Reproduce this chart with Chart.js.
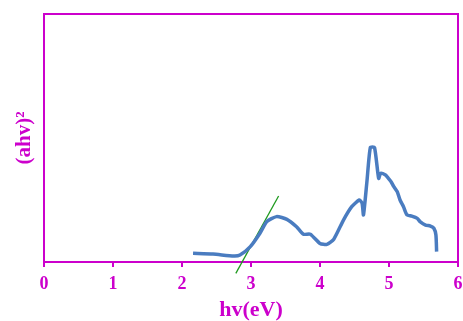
<!DOCTYPE html>
<html lang="en">
  <head>
    <meta charset="UTF-8" />
    <title>Tauc Plot</title>
    <script src="https://cdn.jsdelivr.net/npm/chart.js"></script>
    <style>
      html, body { margin: 0; padding: 0; background: #ffffff; }
      #wrap { width: 463px; height: 321px; }
    </style>
  </head>
  <body>
    <div id="wrap"><canvas id="taucChart"></canvas></div>
    <script>
      // photon energy (eV) and (ahv)^2 (arbitrary units)
      const energy = [2.16, 2.45, 2.75, 2.84, 2.99, 3.13, 3.23, 3.37, 3.52, 3.66, 3.76, 3.86,
        4.0, 4.1, 4.2, 4.34, 4.46, 4.57, 4.61, 4.63, 4.68, 4.73, 4.79, 4.85, 4.88, 4.95,
        4.98, 5.03, 5.07, 5.12, 5.16, 5.21, 5.26, 5.33, 5.41, 5.45, 5.53, 5.6, 5.65, 5.68, 5.69];
      const absorb = [3.5, 3.2, 2.4, 2.8, 6.2, 11.6, 16.3, 18.3, 17.2, 14.2, 11.2, 11.2,
        7.5, 7.1, 9.2, 16.9, 22.3, 25.0, 23.7, 19.0, 32.4, 46.2, 46.2, 33.7, 35.8, 35.1,
        34.1, 32.4, 30.4, 28.3, 25.0, 22.3, 19.0, 18.5, 17.6, 16.3, 14.9, 14.5, 13.6, 10.9, 4.2];
      // tangent used to read the band gap
      const fitX = [2.78, 3.4];
      const fitY = [-4.6, 26.6];
      const xTicks = [0, 1, 2, 3, 4, 5, 6];

      const magenta = "#cc00cc";
      const serif = "'Liberation Serif', 'Times New Roman', serif";

      const ctx = document.getElementById("taucChart").getContext("2d");
      new Chart(ctx, {
        type: "line",
        data: {
          datasets: [
            {
              label: "curve",
              data: energy.map((e, i) => ({ x: e, y: absorb[i] })),
              borderColor: "#4a7cc0",
              borderWidth: 3.5,
              pointRadius: 0,
              tension: 0.2,
              fill: false,
            },
            {
              label: "fit",
              data: fitX.map((e, i) => ({ x: e, y: fitY[i] })),
              borderColor: "#1f9a1f",
              borderWidth: 1.3,
              pointRadius: 0,
              clip: false,
              fill: false,
            },
          ],
        },
        options: {
          responsive: true,
          maintainAspectRatio: false,
          animation: false,
          layout: { padding: { top: 14, right: 0, left: 0, bottom: 0 } },
          plugins: {
            legend: { display: false },
            tooltip: { enabled: false },
          },
          scales: {
            x: {
              type: "linear",
              min: 0,
              max: 6,
              afterBuildTicks: (axis) => {
                axis.ticks = xTicks.map((v) => ({ value: v }));
              },
              afterFit: (axis) => {
                axis.height = 59;
                axis.paddingLeft = 0;
                axis.paddingRight = 5;
              },
              border: { color: magenta, width: 2 },
              grid: {
                drawOnChartArea: false,
                color: magenta,
                tickColor: magenta,
                tickLength: 5,
                lineWidth: 2,
              },
              ticks: {
                color: magenta,
                padding: 7,
                maxRotation: 0,
                font: { family: serif, size: 18, weight: "bold" },
              },
              title: {
                display: true,
                text: "hv(eV)",
                color: magenta,
                padding: { top: 0, bottom: 0 },
                font: { family: serif, size: 22, weight: "bold", lineHeight: 1.0 },
              },
            },
            x2: {
              type: "linear",
              position: "top",
              min: 0,
              max: 6,
              border: { color: magenta, width: 2 },
              grid: { display: false },
              ticks: { display: false },
              afterFit: (axis) => {
                axis.height = 0;
              },
            },
            y: {
              min: 0,
              max: 100,
              afterFit: (axis) => {
                axis.width = 44;
              },
              border: { color: magenta, width: 2 },
              grid: { display: false },
              ticks: { display: false },
              title: {
                display: true,
                text: "(ahv)²",
                color: magenta,
                padding: { top: 12, bottom: 0 },
                font: { family: serif, size: 21, weight: "bold" },
              },
            },
            y2: {
              position: "right",
              min: 0,
              max: 100,
              border: { color: magenta, width: 2 },
              grid: { display: false },
              ticks: { display: false },
              afterFit: (axis) => {
                axis.width = 0;
              },
            },
          },
        },
      });
    </script>
  </body>
</html>
